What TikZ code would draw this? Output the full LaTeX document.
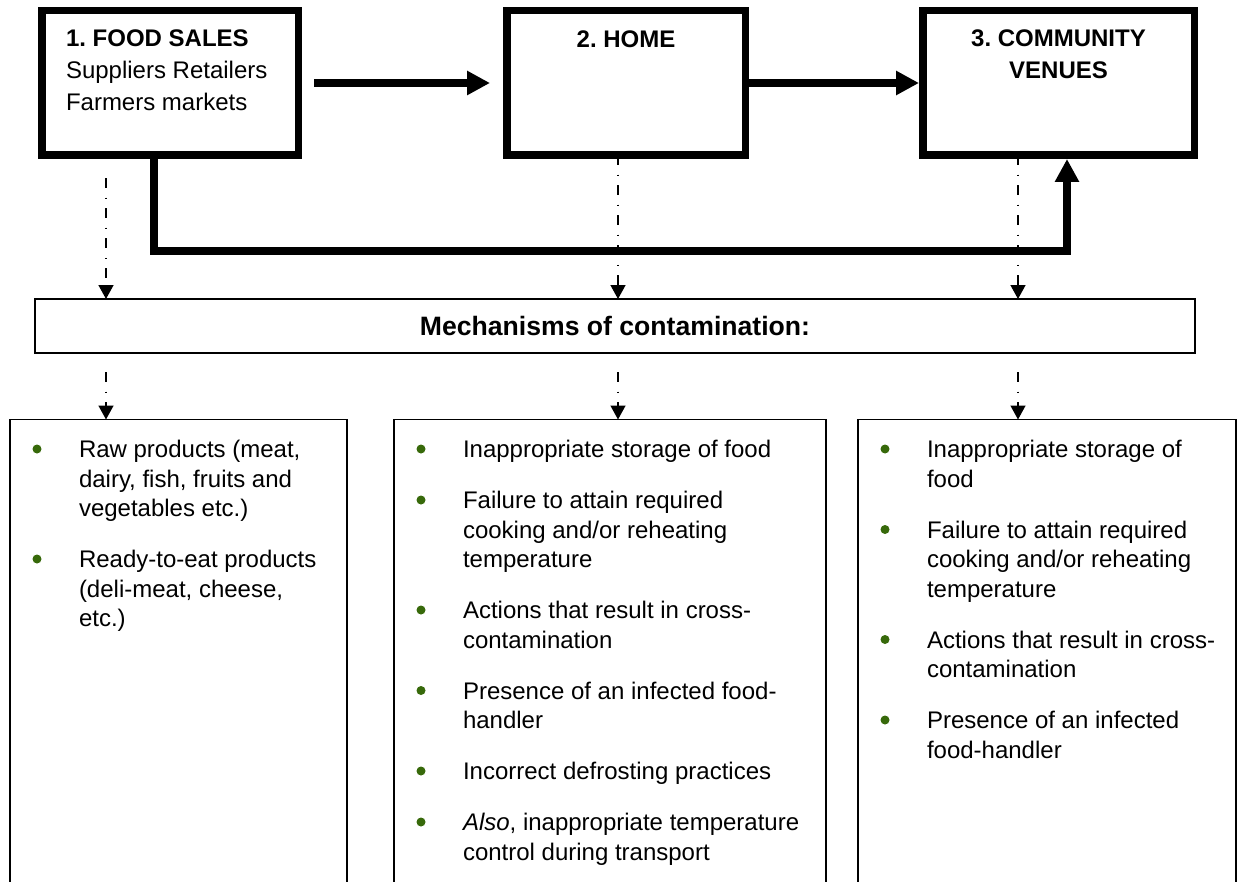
\documentclass[tikz,border=0pt]{standalone}
\usepackage{fontspec}
\setmainfont{Liberation Sans}
\usetikzlibrary{arrows.meta,calc}
\definecolor{bulgreen}{RGB}{55,105,10}
\frenchspacing
\newcommand\myitem[5]{%
  \fill[bulgreen] (#2,#4-8.5) circle (4.5);
  \node[itemtext, anchor=north west] (#1) at (#3,#4-24) {\rule{0pt}{12pt}#5};
}
\begin{document}
\begin{tikzpicture}[x=0.5pt,y=-0.5pt,
  topbox/.style={draw, line width=3.75pt, inner sep=0pt, outer sep=0pt, minimum height=72.25pt},
  thinbox/.style={draw, line width=0.75pt, inner sep=0pt, outer sep=0pt},
  thickarrow/.style={line width=3.75pt, -{Triangle[length=11.5pt,width=11.5pt]}},
  ddarrow/.style={line width=0.75pt, dash pattern=on 5pt off 4.75pt on 0.75pt off 4.5pt, -{Triangle[length=7pt,width=7.5pt]}},
  titletext/.style={inner sep=0pt, outer sep=0pt, font=\fontsize{12pt}{16pt}\selectfont},
  itemtext/.style={inner sep=0pt, outer sep=0pt, align=left, font=\fontsize{12pt}{14.75pt}\selectfont}]
\useasboundingbox (0,0) rectangle (1241,882);

% top boxes
\node[topbox, minimum width=128.25pt] (fs) at (170,83) {};
\node[topbox, minimum width=119.25pt] (home) at (626,83) {};
\node[topbox, minimum width=135.75pt] (cv) at (1058.5,83) {};

\node[titletext, align=left, anchor=north west] (fst) at (66,23)
  {\rule{0pt}{12pt}\textbf{1. FOOD SALES}\\Suppliers Retailers\\Farmers markets};
\node[titletext, align=center, anchor=north] (homet) at (626,24)
  {\rule{0pt}{12pt}\textbf{2. HOME}};
\node[titletext, align=center, anchor=north] (cvt) at (1058.5,23)
  {\rule{0pt}{12pt}\textbf{3. COMMUNITY}\\\textbf{VENUES}};

% mechanisms box
\node[thinbox, minimum width=580pt, minimum height=27pt, font=\fontsize{13.3pt}{15pt}\selectfont\bfseries] (m) at (615,326) {Mechanisms of contamination:};

% bottom boxes (open at the bottom edge of the picture)
\node[thinbox, minimum width=168.5pt, minimum height=240.5pt] (ba) at (178.5,660) {};
\node[thinbox, minimum width=216pt, minimum height=240.5pt] (bb) at (610,660) {};
\node[thinbox, minimum width=189pt, minimum height=240.5pt] (bc) at (1047,660) {};

% thick arrows
\draw[thickarrow] ($(fs.east)+(15.75,0)$) -- ($(home.west)+(-16.75,0)$);
\draw[thickarrow] (home.east) -- ($(cv.west)+(-3.75,0)$);
\draw[thickarrow] ($(fs.south)+(-16,0)$) -- ++(0,96) -| ($(cv.south)+(8.5,3.75)$);

% dash-dot arrows, upper row
\coordinate (u1) at ($(fs.south)+(-64,23)$);
\coordinate (u2) at ($(home.south)+(-8,0)$);
\coordinate (u3) at ($(cv.south)+(-40.5,0)$);
\draw[ddarrow] (u1) -- (m.north -| u1);
\draw[ddarrow] (u2) -- (m.north -| u2);
\draw[ddarrow] (u3) -- (m.north -| u3);

% dash-dot arrows, lower row
\coordinate (l1) at ($(m.south -| u1)+(0,19)$);
\coordinate (l2) at ($(m.south -| u2)+(0,19)$);
\coordinate (l3) at ($(m.south -| u3)+(0,19)$);
\draw[ddarrow] (l1) -- (ba.north -| l1);
\draw[ddarrow] (l2) -- (bb.north -| l2);
\draw[ddarrow] (l3) -- (bc.north -| l3);

% items, box A
\myitem{ia1}{37}{79}{457.5}{Raw products (meat,\\dairy, fish, fruits and\\vegetables etc.)}
\myitem{ia2}{37}{79}{567.5}{Ready-to-eat products\\(deli-meat, cheese,\\etc.)}
% items, box B
\myitem{ib1}{421}{463}{457.5}{Inappropriate storage of food}
\myitem{ib2}{421}{463}{508.5}{Failure to attain required\\cooking and/or reheating\\temperature}
\myitem{ib3}{421}{463}{618.5}{Actions that result in cross-\\contamination}
\myitem{ib4}{421}{463}{699}{Presence of an infected food-\\handler}
\myitem{ib5}{421}{463}{779.5}{Incorrect defrosting practices}
\myitem{ib6}{421}{463}{830.5}{\textit{Also}, inappropriate temperature\\control during transport}
% items, box C
\myitem{ic1}{885}{927}{457.5}{Inappropriate storage of\\food}
\myitem{ic2}{885}{927}{538}{Failure to attain required\\cooking and/or reheating\\temperature}
\myitem{ic3}{885}{927}{648}{Actions that result in cross-\\contamination}
\myitem{ic4}{885}{927}{728.5}{Presence of an infected\\food-handler}
\end{tikzpicture}
\end{document}
